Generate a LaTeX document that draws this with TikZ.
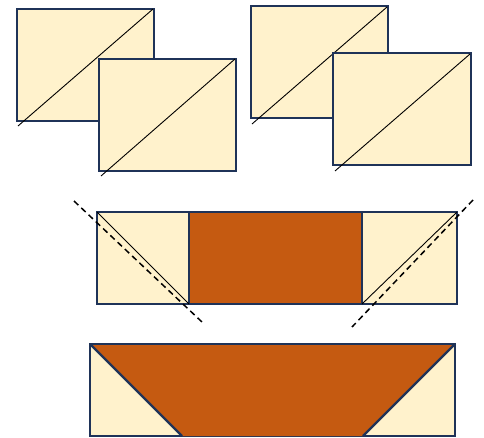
\documentclass[tikz,border=0pt]{standalone}
\usetikzlibrary{calc}
\definecolor{cream}{HTML}{FFF2CC}
\definecolor{navy}{HTML}{1F3358}
\definecolor{rust}{HTML}{C55A11}
\begin{document}
\begin{tikzpicture}[x=1pt,y=-1pt,
  sq/.style={draw=navy,fill=cream,line width=2.3pt,inner sep=0pt,outer sep=0pt,anchor=north west},
  brownbox/.style={draw=navy,fill=rust,line width=2.3pt,inner sep=0pt,outer sep=0pt,anchor=north west},
  diag/.style={draw=black,line width=0.9pt},
  cutline/.style={draw=black,line width=1.5pt,dash pattern=on 6pt off 4pt},
  edge/.style={draw=navy,line width=2.3pt,line join=round}]
\useasboundingbox (0,0) rectangle (484,437);
% top-left pair
\node[sq,minimum width=137pt,minimum height=112pt] (a) at (17,9) {};
\coordinate (ae) at (18,126);
\draw[diag] ($(a.north east)+(-1,0)$) -- (ae);
\node[sq,minimum width=137pt,minimum height=112pt] (b) at (99,59) {};
\coordinate (be) at (101,176);
\draw[diag] ($(b.north east)+(-1,0)$) -- (be);
% top-right pair
\node[sq,minimum width=137pt,minimum height=112pt] (c) at (251,6) {};
\coordinate (ce) at (252,124);
\draw[diag] ($(c.north east)+(-1,1)$) -- (ce);
\node[sq,minimum width=138pt,minimum height=112pt] (d) at (333,53) {};
\coordinate (de) at (335,171);
\draw[diag] ($(d.north east)+(-1,1)$) -- (de);
% middle strip
\node[sq,minimum width=92pt,minimum height=92pt] (l) at (97,212) {};
\node[brownbox,minimum width=173pt,minimum height=92pt] (m) at (189,212) {};
\node[sq,minimum width=95pt,minimum height=92pt] (r) at (362,212) {};
\draw[diag] (l.north west) -- (l.south east);
\draw[diag] (r.north east) -- (r.south west);
\coordinate (dl1) at (74,201);
\coordinate (dl2) at (202,322);
\coordinate (dr1) at (473,200);
\coordinate (dr2) at (352,327);
\draw[cutline] (dl1) -- (dl2);
\draw[cutline] (dr1) -- (dr2);
% bottom strip
\node[sq,minimum width=365pt,minimum height=92pt] (s) at (90,344) {};
\coordinate (t1) at (182,436);
\coordinate (t2) at (363,436);
\fill[rust] (s.north west) -- (s.north east) -- (t2) -- (t1) -- cycle;
\draw[edge] (s.north west) -- (t1);
\draw[edge] (s.north east) -- (t2);
\draw[edge] (s.north west) -- (s.north east);
\end{tikzpicture}
\end{document}
